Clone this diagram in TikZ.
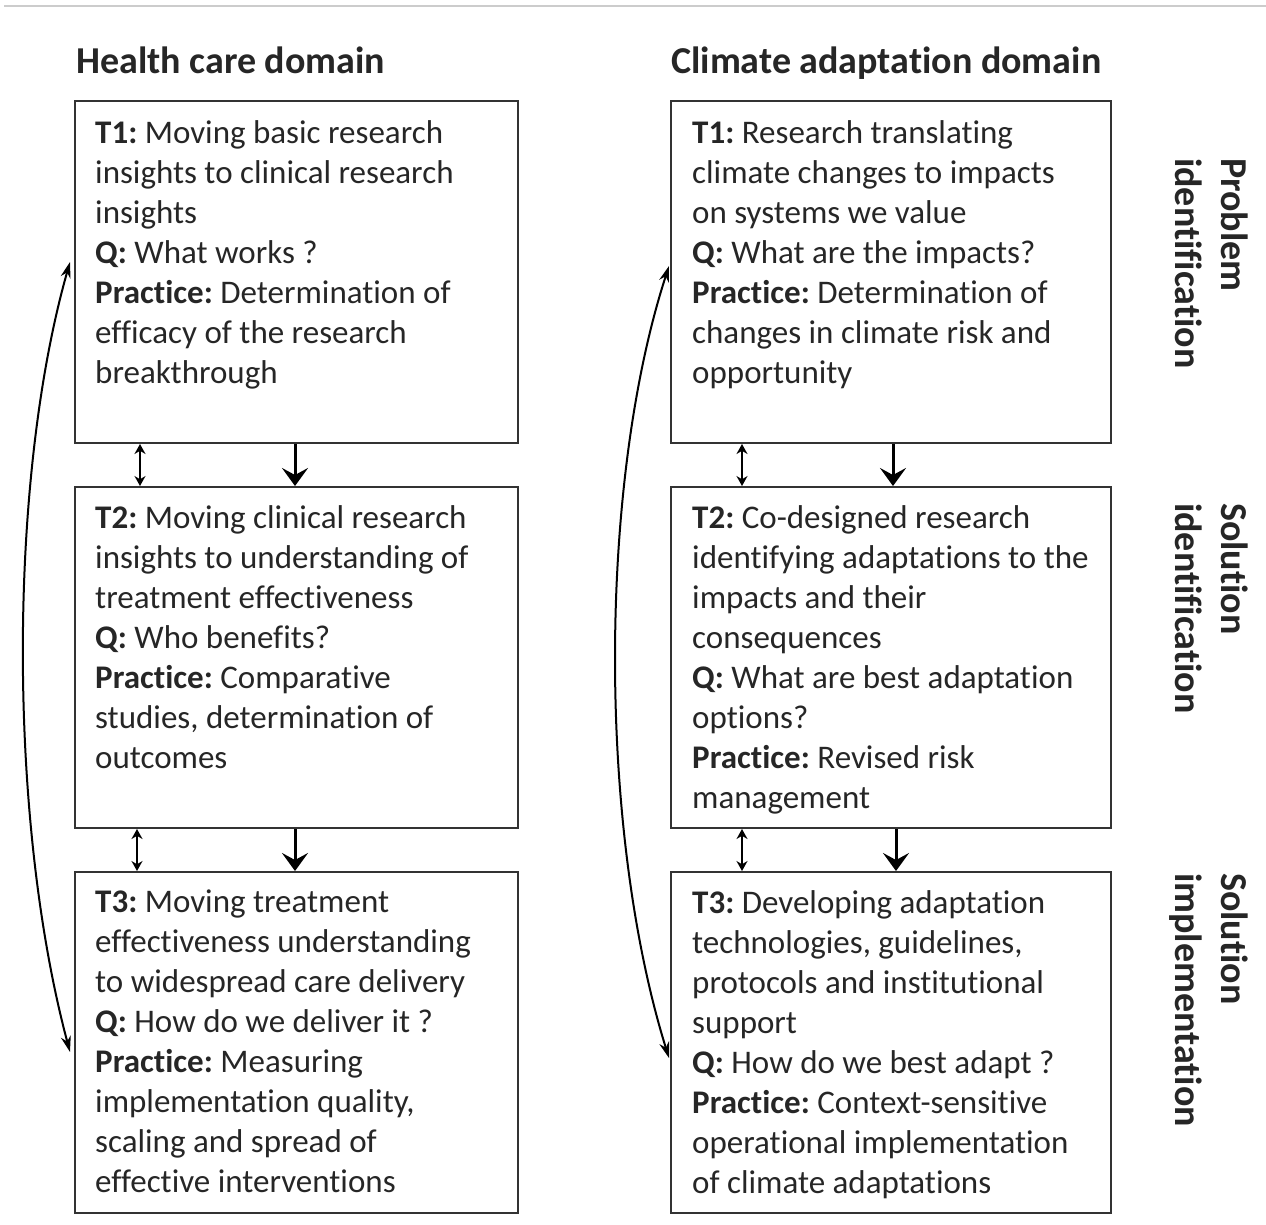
\documentclass[tikz,border=0pt]{standalone}
\usepackage{fontspec}
\setmainfont[Ligatures=NoCommon]{Carlito}
\usetikzlibrary{arrows.meta}
\frenchspacing
\begin{document}
\begin{tikzpicture}[x=1pt,y=-1pt,
  box/.style={draw=black!80,line width=2.2pt},
  txt/.style={anchor=north west,align=left,inner sep=0pt,font=\fontsize{33}{40}\selectfont,text=black!85},
  ttl/.style={anchor=base west,inner sep=0pt,font=\fontsize{38}{44}\selectfont\bfseries,text=black!85},
  side/.style={rotate=-90,anchor=north west,align=left,inner sep=0pt,font=\fontsize{38}{46}\selectfont\bfseries,text=black!85},
  dbl/.style={line width=1.5pt,{Stealth[length=10pt,width=11pt]}-{Stealth[length=10pt,width=11pt]}},
  big/.style={line width=3pt,-{Stealth[length=18pt,width=26pt,inset=7pt]}},
  curv/.style={line width=2pt,{Stealth[length=16pt,width=10pt]}-{Stealth[length=16pt,width=10pt]}}
]
\useasboundingbox (0,0) rectangle (1266,1224);
\draw[black!20,line width=2pt] (4,6) -- (1266,6);

\node[ttl] (t1) at (76,73) {Health care domain};
\node[ttl] (t2) at (671,73) {Climate adaptation domain};

% boxes
\draw[box] (75,101) rectangle (518,443);
\draw[box] (75,487) rectangle (518,828);
\draw[box] (75,872) rectangle (518,1213);
\draw[box] (671,101) rectangle (1111,443);
\draw[box] (671,487) rectangle (1111,828);
\draw[box] (671,872) rectangle (1111,1213);

\node[txt] (a1) at (95,120) {\textbf{T1:} Moving basic research\\insights to clinical research\\insights\\\textbf{Q:} What works ?\\\textbf{Practice:} Determination of\\efficacy of the research\\breakthrough};
\node[txt] (a2) at (95,505) {\textbf{T2:} Moving clinical research\\insights to understanding of\\treatment effectiveness\\\textbf{Q:} Who benefits?\\\textbf{Practice:} Comparative\\studies, determination of\\outcomes};
\node[txt] (a3) at (95,890) {\textbf{T3:} Moving treatment\\effectiveness understanding\\to widespread care delivery\\\textbf{Q:} How do we deliver it ?\\\textbf{Practice:} Measuring\\implementation quality,\\scaling and spread of\\effective interventions};

\node[txt] (b1) at (692,120) {\textbf{T1:} Research translating\\climate changes to impacts\\on systems we value\\\textbf{Q:} What are the impacts?\\\textbf{Practice:} Determination of\\changes in climate risk and\\opportunity};
\node[txt] (b2) at (692,505) {\textbf{T2:} Co-designed research\\identifying adaptations to the\\impacts and their\\consequences\\\textbf{Q:} What are best adaptation\\options?\\\textbf{Practice:} Revised risk\\management};
\node[txt] (b3) at (692,890) {\textbf{T3:} Developing adaptation\\technologies, guidelines,\\protocols and institutional\\support\\\textbf{Q:} How do we best adapt ?\\\textbf{Practice:} Context-sensitive\\operational implementation\\of climate adaptations};

% side labels
\node[side] (s1) at (1248,158) {Problem\\identification};
\node[side] (s2) at (1248,503) {Solution\\identification};
\node[side] (s3) at (1248,873) {Solution\\implementation};

% arrows between boxes
\coordinate (l1a) at (140,444); \coordinate (l1b) at (140,486);
\coordinate (l2a) at (137,829); \coordinate (l2b) at (137,871);
\coordinate (r1a) at (742,444); \coordinate (r1b) at (742,486);
\coordinate (r2a) at (742,829); \coordinate (r2b) at (742,871);
\draw[dbl] (l1a) -- (l1b);
\draw[dbl] (l2a) -- (l2b);
\draw[dbl] (r1a) -- (r1b);
\draw[dbl] (r2a) -- (r2b);

\coordinate (L1a) at (295,444); \coordinate (L1b) at (295,486);
\coordinate (L2a) at (295,829); \coordinate (L2b) at (295,871);
\coordinate (R1a) at (893,444); \coordinate (R1b) at (893,486);
\coordinate (R2a) at (896,829); \coordinate (R2b) at (896,871);
\draw[big] (L1a) -- (L1b);
\draw[big] (L2a) -- (L2b);
\draw[big] (R1a) -- (R1b);
\draw[big] (R2a) -- (R2b);

% curved arrows
\coordinate (cl1) at (70,262); \coordinate (cl2) at (70,1052);
\coordinate (cr1) at (669,266); \coordinate (cr2) at (669,1058);
\draw[curv] (cl1) .. controls (8,480) and (8,820) .. (cl2);
\draw[curv] (cr1) .. controls (598,485) and (598,830) .. (cr2);
\end{tikzpicture}
\end{document}
